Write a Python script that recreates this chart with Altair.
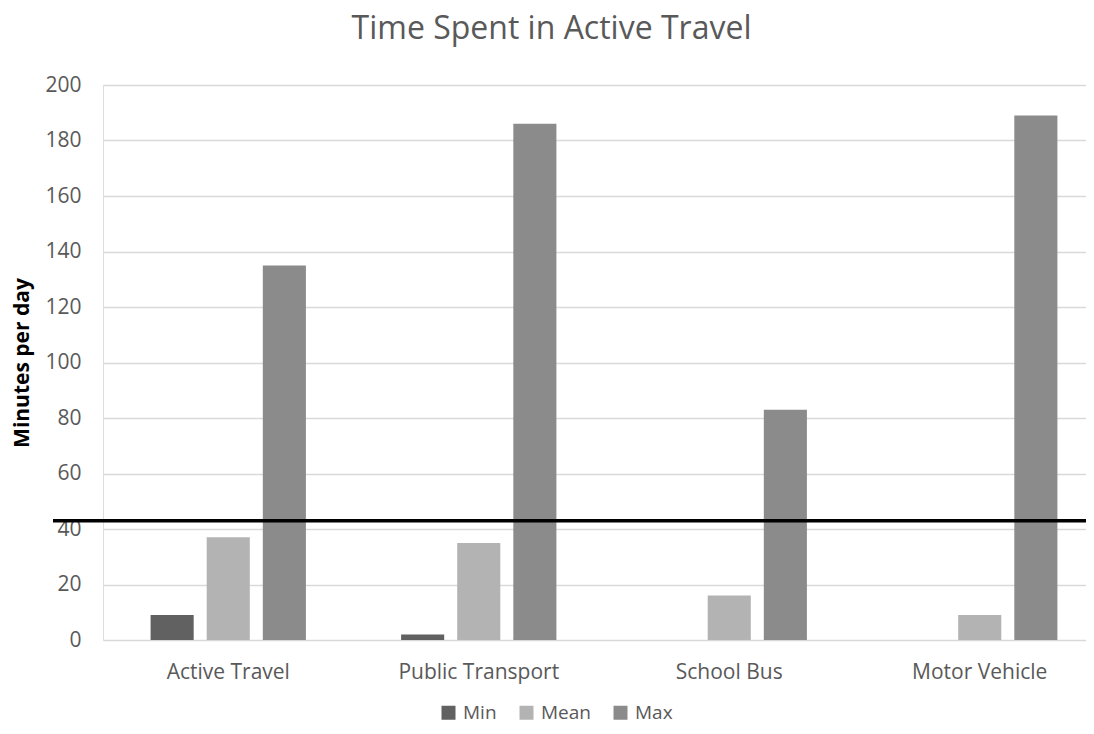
import altair as alt
import pandas as pd

CATEGORIES = ["Active Travel", "Public Transport", "School Bus", "Motor Vehicle"]
SERIES = ["Min", "Mean", "Max"]
MIN_VALUES = [9, 2, 0, 0]
MEAN_VALUES = [37, 35, 16, 9]
MAX_VALUES = [135, 186, 83, 189]
Y_TICKS = [0, 20, 40, 60, 80, 100, 120, 140, 160, 180, 200]
THRESHOLD = 43
COLORS = ["#616161", "#b3b3b3", "#8b8b8b"]

rows = []
for i, cat in enumerate(CATEGORIES):
    for s, vals in zip(SERIES, [MIN_VALUES, MEAN_VALUES, MAX_VALUES]):
        rows.append({"category": cat, "series": s, "value": vals[i]})
df = pd.DataFrame(rows)

FONT = "Open Sans"
TXT = "#595959"

bars = alt.Chart(df).mark_bar().encode(
    x=alt.X("category:N", sort=CATEGORIES,
            scale=alt.Scale(range=[0, 1002], paddingInner=0.38, paddingOuter=0.19),
            axis=alt.Axis(title=None, labelAngle=0, labelFontSize=21, labelColor=TXT,
                          labelFont=FONT, ticks=False, domain=False, labelPadding=21)),
    xOffset=alt.XOffset("series:N", sort=SERIES,
                        scale=alt.Scale(paddingInner=0.232, paddingOuter=0)),
    y=alt.Y("value:Q", scale=alt.Scale(domain=[0, 200], nice=False),
            axis=alt.Axis(values=Y_TICKS, title="Minutes per day", titleFontSize=21,
                          titleFont=FONT, titleFontWeight="bold", titleColor="#000000",
                          titleX=-81, titleY=277.5, titleAngle=270, titleBaseline="middle",
                          titleAlign="center",
                          labelFontSize=21, labelColor=TXT, labelFont=FONT,
                          ticks=False, domain=False, labelPadding=22,
                          grid=True, gridColor="#d9d9d9", gridWidth=1.3)),
    color=alt.Color("series:N", sort=SERIES,
                    scale=alt.Scale(domain=SERIES, range=COLORS),
                    legend=alt.Legend(title=None, orient="none", direction="horizontal",
                                      legendX=336, legendY=618, symbolType="square",
                                      symbolSize=196, symbolStrokeWidth=0,
                                      labelFontSize=19, labelColor=TXT, labelFont=FONT,
                                      labelOffset=5, columnPadding=20, padding=0)),
)

rule = alt.Chart(pd.DataFrame({"v": [THRESHOLD]})).mark_rule(
    color="#000000", strokeWidth=3.5
).encode(y="v:Q", x=alt.value(-50), x2=alt.value(1000))

chart = alt.layer(bars, rule).properties(
    width=983,
    height=555,
    title=alt.TitleParams(text="Time Spent in Active Travel", fontSize=32, font=FONT,
                          fontWeight="normal", color=TXT, anchor="middle", frame="group",
                          dx=-43, offset=3, baseline="alphabetic"),
    padding={"left": 95, "top": 77, "right": 0, "bottom": 86},
    autosize=alt.AutoSizeParams(type="none"),
).configure_view(stroke=None).configure(font=FONT)

chart.save("out.html", embed_options={"renderer": "svg", "actions": False})
